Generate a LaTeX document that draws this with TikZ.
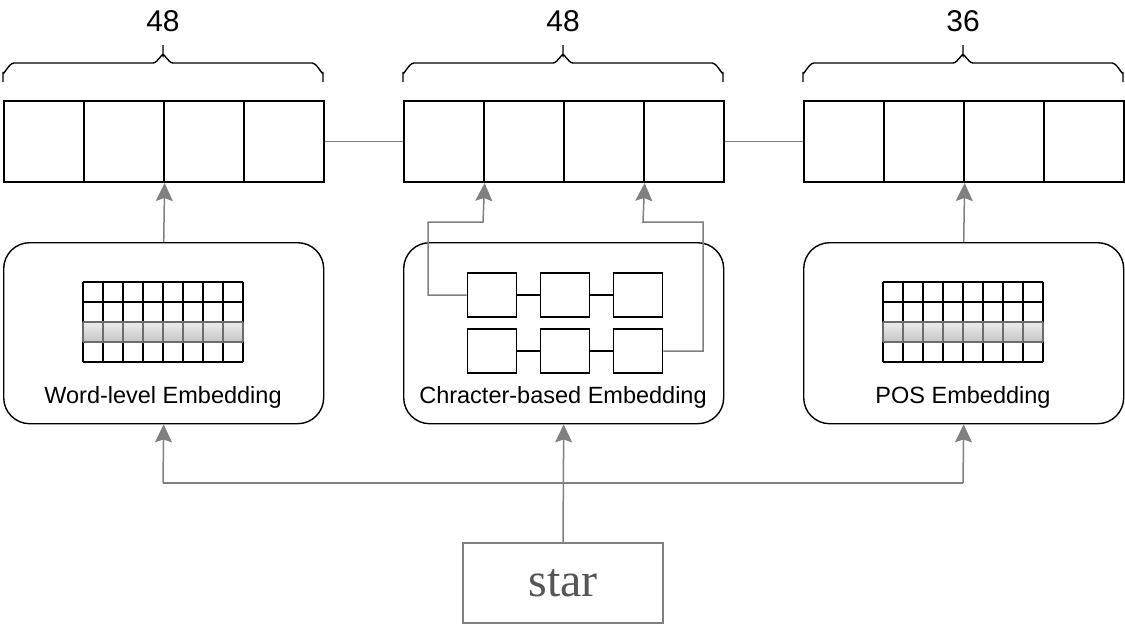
\documentclass[tikz,border=0pt]{standalone}
\usepackage{fontspec}
\setmainfont{Liberation Sans}
\newfontfamily\serifface{Liberation Serif}
\usetikzlibrary{arrows.meta,calc}
\definecolor{conn}{HTML}{808080}
\definecolor{stargray}{HTML}{555555}
\tikzset{
  cellbox/.style={draw=black,line width=1.6pt,minimum width=80pt,minimum height=81pt,inner sep=0pt,anchor=south west},
  embbox/.style={draw=black,line width=1.4pt,rounded corners=26pt,minimum width=320pt,minimum height=181pt,inner sep=0pt,anchor=north west},
  charbox/.style={draw=black,line width=1.6pt,minimum width=49pt,minimum height=44pt,inner sep=0pt},
  conline/.style={draw=conn,line width=1.5pt},
  conarrow/.style={draw=conn,line width=1.5pt,-{Stealth[length=18pt,width=17pt,inset=3pt,fill=conn]}},
  bracestyle/.style={draw=black,line width=1.4pt},
  numlabel/.style={font=\fontsize{30}{34}\selectfont,inner sep=0pt},
  embtext/.style={font=\fontsize{23.5}{28}\selectfont,inner sep=0pt},
  gridline/.style={draw=black,line width=1.6pt},
  shadedrow/.style={top color=gray!15,bottom color=gray!45},
  shadeline/.style={draw=gray!85!black,line width=1.6pt}
}
\begin{document}
\begin{tikzpicture}[x=1pt,y=-1pt]
\useasboundingbox (0,0) rectangle (1125,625);
% top rows of cells
\foreach \g/\x in {L/3,M/403,R/803}{
  \foreach \i in {0,1,2,3}{
    \node[cellbox] (\g\i) at (\x+80*\i,183) {};
  }
}
% braces
\foreach \bx in {3,403,803}{
  \draw[bracestyle] (\bx,82) -- (\bx,72) to[out=-90,in=180] (\bx+11,63) -- (\bx+150,63)
     to[out=0,in=90] (\bx+160,56) -- (\bx+160,45);
  \draw[bracestyle] (\bx+320,82) -- (\bx+320,72) to[out=-90,in=0] (\bx+309,63) -- (\bx+170,63)
     to[out=180,in=90] (\bx+160,56);
}
\node[numlabel] (nL) at (163,21) {48};
\node[numlabel] (nM) at (563,21) {48};
\node[numlabel] (nR) at (963,21) {36};
% connectors between rows
\draw[conline] (L3.east) -- (M0.west);
\draw[conline] (M3.east) -- (R0.west);
% embedding boxes
\node[embbox] (eL) at (3,242) {};
\node[embbox] (eM) at (403,242) {};
\node[embbox] (eR) at (803,242) {};
\node[embtext] (tL) at (163,397) {Word-level Embedding};
\node[embtext] (tM) at (563,397) {Chracter-based Embedding};
\node[embtext] (tR) at (963,397) {POS Embedding};
% grids
\foreach \gx/\gn in {83/gL,883/gR}{
  \fill[shadedrow] (\gx,322) rectangle (\gx+160,342);
  \foreach \r in {282,302,362}{ \draw[gridline] (\gx,\r) -- (\gx+160,\r); }
  \foreach \c in {0,...,8}{
    \draw[gridline] (\gx+20*\c,282) -- (\gx+20*\c,322);
    \draw[gridline] (\gx+20*\c,342) -- (\gx+20*\c,362);
    \draw[shadeline] (\gx+20*\c,322) -- (\gx+20*\c,342);
  }
  \draw[shadeline] (\gx,322) -- (\gx+160,322);
  \draw[shadeline] (\gx,342) -- (\gx+160,342);
  \node[inner sep=0pt,minimum width=160pt,minimum height=80pt] (\gn) at (\gx+80,322) {};
}
% char boxes
\node[charbox] (c11) at (492,295) {};
\node[charbox] (c12) at (565,295) {};
\node[charbox] (c13) at (638,295) {};
\node[charbox] (c21) at (492,351) {};
\node[charbox] (c22) at (565,351) {};
\node[charbox] (c23) at (638,351) {};
\draw[gridline] (c11) -- (c12); \draw[gridline] (c12) -- (c13);
\draw[gridline] (c21) -- (c22); \draw[gridline] (c22) -- (c23);
% char connectors to top row
\draw[conarrow] (c11.west) -- (428,295) -- (428,222) -- (483,222) -- (M0.south east);
\draw[conarrow] (c23.east) -- (703,351) -- (703,222) -- (643,222) -- (M2.south east);
% arrows from embedding boxes to rows
\draw[conarrow] (eL.north) -- (L1.south east);
\draw[conarrow] (eR.north) -- (R1.south east);
% star
\node[draw=conn,line width=1.5pt,minimum width=200pt,minimum height=80pt,inner sep=0pt,text=stargray,font=\serifface\fontsize{48}{52}\selectfont] (star) at (563,583) {star};
\coordinate (jL) at (163,483);
\coordinate (jR) at (963,483);
\draw[conarrow] (star.north) -- (eM.south);
\draw[conline] (jL) -- (jR);
\draw[conarrow] (jL) -- (eL.south);
\draw[conarrow] (jR) -- (eR.south);
\end{tikzpicture}
\end{document}
